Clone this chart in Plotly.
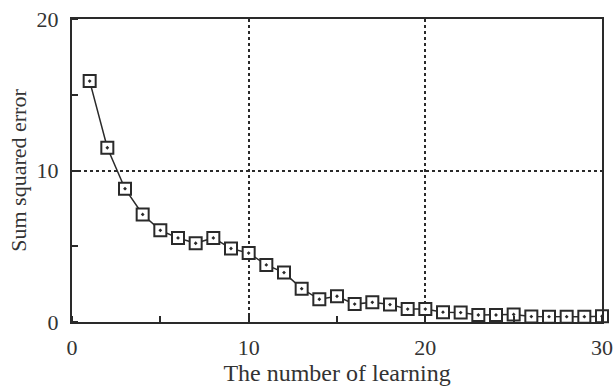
import plotly.graph_objects as go

learning = list(range(1, 31))
sse = [15.9, 11.5, 8.8, 7.1, 6.05, 5.55, 5.2, 5.55, 4.85, 4.55,
       3.77, 3.26, 2.2, 1.5, 1.7, 1.18, 1.3, 1.15, 0.85, 0.85,
       0.65, 0.62, 0.46, 0.46, 0.5, 0.36, 0.35, 0.35, 0.35, 0.38]
x_ticks = [0, 10, 20, 30]
y_ticks = [0, 10, 20]

ink = "#2a2a2a"
font = dict(family="Liberation Serif, Times New Roman, serif", size=22, color="#333333")

fig = go.Figure()
fig.add_trace(go.Scatter(
    x=learning, y=sse, mode="lines+markers",
    line=dict(color=ink, width=1.5),
    marker=dict(symbol="square-dot", size=12, color="white",
                line=dict(color=ink, width=2)),
    showlegend=False, cliponaxis=False,
))

axis_common = dict(
    showline=True, linecolor=ink, linewidth=2, mirror=True,
    showgrid=True, gridcolor=ink, gridwidth=1.5, griddash="dot",
    ticks="outside", tickcolor="rgba(0,0,0,0)",
    zeroline=False, tickfont=font, automargin=False,
    ticklabeloverflow="allow",
    minor=dict(dtick=5, ticks="inside", ticklen=6, tickcolor=ink, tickwidth=2, showgrid=False),
)

fig.update_xaxes(range=[0, 30], tickvals=x_ticks, ticktext=[str(v) for v in x_ticks],
                 ticklen=5,
                 title=dict(text="The number of learning", font=dict(font, size=24), standoff=6),
                 **axis_common)
fig.update_yaxes(range=[0, 20], tickvals=y_ticks, ticktext=[str(v) for v in y_ticks],
                 ticklen=7,
                 title=dict(text="Sum squared error", font=font, standoff=4),
                 **axis_common)

fig.update_layout(
    width=613, height=386,
    margin=dict(l=72, r=11, t=19, b=64),
    paper_bgcolor="white", plot_bgcolor="white",
    font=font,
)

# remove the default page margin so the 613x386 figure fills the window exactly
fig.write_html("out.html",
               config={"displayModeBar": False},
               post_script="document.body.style.margin='0';document.body.style.overflow='hidden';")
